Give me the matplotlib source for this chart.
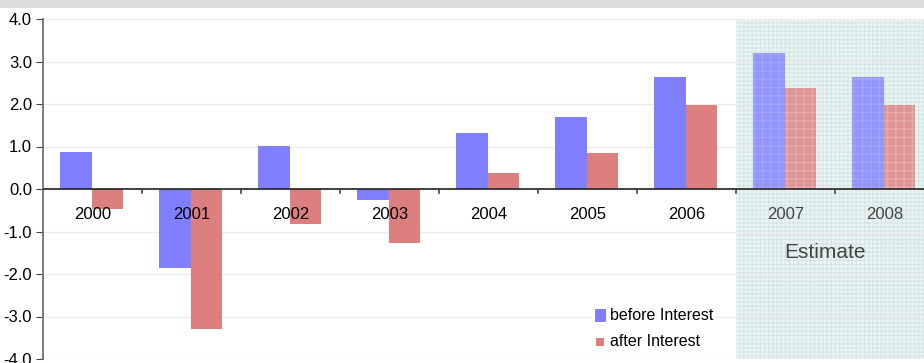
import matplotlib.pyplot as plt
from matplotlib.patches import Rectangle

plt.rcParams['font.family'] = ['Liberation Sans', 'DejaVu Sans']

years = ['2000', '2001', '2002', '2003', '2004', '2005', '2006', '2007', '2008']
before_interest = [0.88, -1.87, 1.02, -0.25, 1.32, 1.69, 2.64, 3.21, 2.64]
after_interest = [-0.47, -3.30, -0.82, -1.27, 0.38, 0.85, 1.98, 2.38, 1.98]
n_actual = 7  # 2007 and 2008 are estimates
y_ticks = [-4.0, -3.0, -2.0, -1.0, 0.0, 1.0, 2.0, 3.0, 4.0]

blue = '#8080ff'
red = '#dd7f7e'

fig = plt.figure(figsize=(9.24, 3.63), dpi=100)
# grey header strip cut off at the top
fig.patches.append(Rectangle((0, 1 - 8 / 363), 1, 8 / 363, transform=fig.transFigure,
                             facecolor='#dcdcdc', edgecolor='none'))
ax = fig.add_axes([43 / 924, 4 / 363, 891 / 924, 340 / 363])

# estimate region
ax.axvspan(n_actual, len(years), facecolor='#eef6f5', edgecolor='#d6e8e6',
           hatch='++++', linewidth=0, zorder=0)

w = 0.32
for i in range(len(years)):
    est = i >= n_actual
    xb = i + 0.17
    xa = i + 0.17 + w
    if est:
        ax.bar(xb, before_interest[i], width=w, align='edge', color=blue, alpha=0.8,
               hatch='++', edgecolor='#a8a8ff', linewidth=0, zorder=2)
        ax.bar(xa, after_interest[i], width=w, align='edge', color=red, alpha=0.8,
               hatch='++', edgecolor='#e8b0b0', linewidth=0, zorder=2)
    else:
        ax.bar(xb, before_interest[i], width=w, align='edge', color=blue, zorder=2)
        ax.bar(xa, after_interest[i], width=w, align='edge', color=red, zorder=2)

ax.set_xlim(0, len(years))
ax.set_ylim(-4, 4)
ax.set_yticks(y_ticks)
ax.set_yticklabels(['%.1f' % v for v in y_ticks], fontsize=12)
ax.yaxis.grid(True, color='#ebebeb', linewidth=1)
ax.set_axisbelow(True)

for s in ['top', 'right', 'bottom']:
    ax.spines[s].set_visible(False)
ax.spines['left'].set_color('#666666')
ax.spines['left'].set_linewidth(1.2)
ax.tick_params(axis='y', length=5, color='#444444', pad=3)
ax.set_xticks([])

# zero axis with category ticks
ax.axhline(0, color='#222222', linewidth=1.2, zorder=3)
for i in range(1, len(years)):
    ax.plot([i, i], [0, -0.1], color='#444444', linewidth=1.2, zorder=3)

for i, yr in enumerate(years):
    ax.text(i + 0.5, -0.6, yr, ha='center', va='center', fontsize=12,
            color='#444444' if i >= n_actual else 'black', zorder=4)
ax.text(7.9, -1.5, 'Estimate', ha='center', va='center', fontsize=15,
        color='#444444', zorder=4)

# legend
ax.add_patch(Rectangle((5.55, -3.85), 1.25, 0.95, facecolor='white', edgecolor='none', zorder=4))
ax.add_patch(Rectangle((5.58, -3.12), 0.11, 0.3, facecolor=blue, edgecolor='none', zorder=5))
ax.add_patch(Rectangle((5.59, -3.7), 0.08, 0.2, facecolor=red, edgecolor='none', zorder=5))
ax.text(5.73, -2.97, 'before Interest', va='center', fontsize=11.5, zorder=5)
ax.text(5.73, -3.58, 'after Interest', va='center', fontsize=11.5, zorder=5)

fig.savefig('out.png', dpi=100)
